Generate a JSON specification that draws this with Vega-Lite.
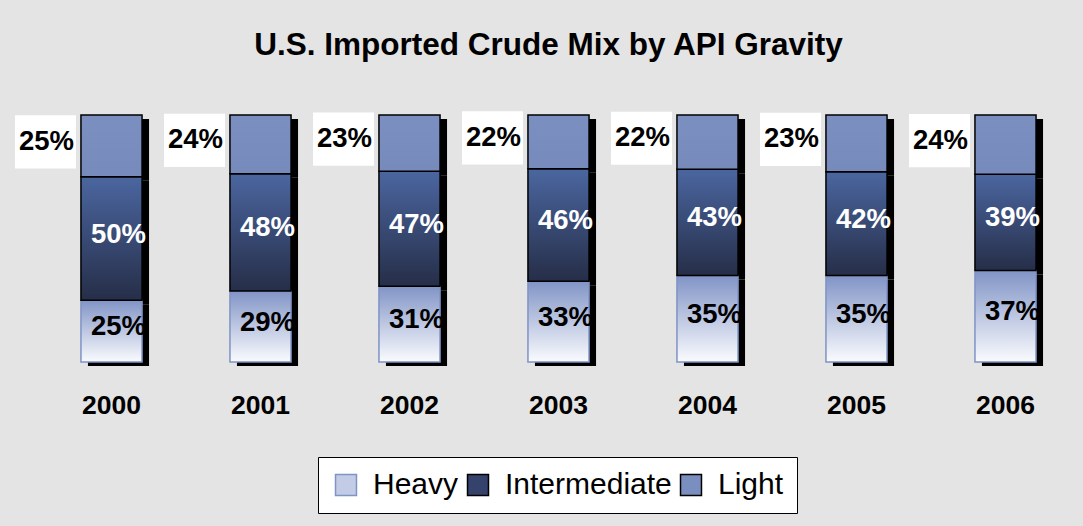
{
  "$schema": "https://vega.github.io/schema/vega-lite/v6.json",
  "width": 1043,
  "height": 247,
  "autosize": {"type": "none"},
  "padding": {"left": 37, "top": 115, "right": 3, "bottom": 164},
  "background": "#e4e4e4",
  "title": {
    "text": "U.S. Imported Crude Mix by API Gravity",
    "font": "Liberation Sans",
    "fontSize": 31.5,
    "fontWeight": "bold",
    "color": "#000000",
    "anchor": "middle",
    "frame": "group",
    "offset": 50,
    "dx": -10
  },
  "config": {"view": {"stroke": null}, "font": "Liberation Sans"},
  "data": {
    "values": [
      {"year": "2000", "type": "Heavy", "pct": 0.25},
      {"year": "2000", "type": "Intermediate", "pct": 0.50},
      {"year": "2000", "type": "Light", "pct": 0.25},
      {"year": "2001", "type": "Heavy", "pct": 0.29},
      {"year": "2001", "type": "Intermediate", "pct": 0.48},
      {"year": "2001", "type": "Light", "pct": 0.24},
      {"year": "2002", "type": "Heavy", "pct": 0.31},
      {"year": "2002", "type": "Intermediate", "pct": 0.47},
      {"year": "2002", "type": "Light", "pct": 0.23},
      {"year": "2003", "type": "Heavy", "pct": 0.33},
      {"year": "2003", "type": "Intermediate", "pct": 0.46},
      {"year": "2003", "type": "Light", "pct": 0.22},
      {"year": "2004", "type": "Heavy", "pct": 0.35},
      {"year": "2004", "type": "Intermediate", "pct": 0.43},
      {"year": "2004", "type": "Light", "pct": 0.22},
      {"year": "2005", "type": "Heavy", "pct": 0.35},
      {"year": "2005", "type": "Intermediate", "pct": 0.42},
      {"year": "2005", "type": "Light", "pct": 0.23},
      {"year": "2006", "type": "Heavy", "pct": 0.37},
      {"year": "2006", "type": "Intermediate", "pct": 0.39},
      {"year": "2006", "type": "Light", "pct": 0.24}
    ]
  },
  "transform": [
    {
      "stack": "pct",
      "groupby": ["year"],
      "sort": [{"field": "type", "order": "ascending"}],
      "offset": "normalize",
      "as": ["y0", "y1"]
    }
  ],
  "encoding": {
    "x": {
      "field": "year",
      "type": "ordinal",
      "scale": {"paddingInner": 0.59, "paddingOuter": 0.295},
      "axis": {
        "title": null,
        "domain": false,
        "ticks": false,
        "labelAngle": 0,
        "labelFont": "Liberation Sans",
        "labelFontSize": 26.5,
        "labelFontWeight": "bold",
        "labelColor": "#000000",
        "labelPadding": 30
      }
    }
  },
  "layer": [
    {
      "mark": {"type": "bar", "opacity": 0},
      "encoding": {
        "y": {"field": "y0", "type": "quantitative", "scale": {"domain": [0, 1], "nice": false}, "axis": null},
        "y2": {"field": "y1"},
        "color": {
          "field": "type",
          "type": "nominal",
          "scale": {"domain": ["Heavy", "Intermediate", "Light"], "range": ["#c3cce6", "#34426c", "#7a8fbf"]},
          "legend": {
            "title": null,
            "orient": "none",
            "legendX": 281,
            "legendY": 342,
            "direction": "horizontal",
            "fillColor": "#ffffff",
            "strokeColor": "#000000",
            "padding": 13,
            "labelFont": "Liberation Sans",
            "labelFontSize": 30,
            "labelColor": "#000000",
            "labelOffset": 12,
            "columnPadding": 4,
            "symbolType": "square",
            "symbolSize": 440,
            "symbolOpacity": 1,
            "symbolStrokeWidth": 1.5,
            "symbolStrokeColor": "#000000",
            "labelLimit": 400,
            "encode": {
              "symbols": {
                "update": {
                  "opacity": {"value": 1},
                  "stroke": [
                    {"test": "datum.value === 'Heavy'", "value": "#7f93c5"},
                    {"value": "#000000"}
                  ]
                }
              }
            }
          }
        }
      }
    },
    {
      "mark": {"type": "bar", "color": "#000000", "xOffset": 7, "yOffset": 4, "y2Offset": 4},
      "encoding": {
        "y": {"field": "y0", "type": "quantitative"},
        "y2": {"field": "y1"}
      }
    },
    {
      "transform": [{"filter": "datum.type === 'Heavy'"}],
      "mark": {
        "type": "bar",
        "stroke": "#7f93c5",
        "strokeWidth": 1.5,
        "fill": {"gradient": "linear", "x1": 0, "y1": 0, "x2": 0, "y2": 1, "stops": [{"offset": 0, "color": "#8194c6"}, {"offset": 1, "color": "#fafbfe"}]}
      },
      "encoding": {
        "y": {"field": "y0", "type": "quantitative"},
        "y2": {"field": "y1"}
      }
    },
    {
      "transform": [{"filter": "datum.type === 'Intermediate'"}],
      "mark": {
        "type": "bar",
        "stroke": "#000000",
        "strokeWidth": 1.5,
        "fill": {"gradient": "linear", "x1": 0, "y1": 0, "x2": 0, "y2": 1, "stops": [{"offset": 0, "color": "#4b66a0"}, {"offset": 1, "color": "#262e48"}]}
      },
      "encoding": {
        "y": {"field": "y0", "type": "quantitative"},
        "y2": {"field": "y1"}
      }
    },
    {
      "transform": [{"filter": "datum.type === 'Light'"}],
      "mark": {
        "type": "bar",
        "stroke": "#000000",
        "strokeWidth": 1.5,
        "fill": {"gradient": "linear", "x1": 0, "y1": 0, "x2": 0, "y2": 1, "stops": [{"offset": 0, "color": "#7b90c0"}, {"offset": 1, "color": "#768bbb"}]}
      },
      "encoding": {
        "y": {"field": "y0", "type": "quantitative"},
        "y2": {"field": "y1"}
      }
    },
    {
      "transform": [
        {"fold": ["y0", "y1"], "as": ["k", "v"]},
        {"aggregate": [{"op": "mean", "field": "v", "as": "mid"}], "groupby": ["year", "type", "pct"]}
      ],
      "layer": [
        {
          "transform": [{"filter": "datum.type === 'Light'"}],
          "mark": {
            "type": "point",
            "shape": "M-1,-0.87L1,-0.87L1,0.87L-1,0.87Z",
            "size": 3721,
            "filled": true,
            "fill": "#ffffff",
            "opacity": 1,
            "strokeWidth": 0,
            "xOffset": -66,
            "yOffset": -4
          },
          "encoding": {"y": {"field": "mid", "type": "quantitative"}}
        },
        {
          "transform": [{"filter": "datum.type === 'Light'"}],
          "mark": {"type": "text", "font": "Liberation Sans", "fontSize": 27.5, "fontWeight": "bold", "color": "#000000", "align": "center", "baseline": "middle", "dx": -65, "dy": -4},
          "encoding": {
            "y": {"field": "mid", "type": "quantitative"},
            "text": {"field": "pct", "type": "quantitative", "format": ".0%"}
          }
        },
        {
          "transform": [{"filter": "datum.type === 'Intermediate'"}],
          "mark": {"type": "text", "font": "Liberation Sans", "fontSize": 27.5, "fontWeight": "bold", "color": "#ffffff", "align": "center", "baseline": "middle", "dx": 7, "dy": -4},
          "encoding": {
            "y": {"field": "mid", "type": "quantitative"},
            "text": {"field": "pct", "type": "quantitative", "format": ".0%"}
          }
        },
        {
          "transform": [{"filter": "datum.type === 'Heavy'"}],
          "mark": {"type": "text", "font": "Liberation Sans", "fontSize": 27.5, "fontWeight": "bold", "color": "#000000", "align": "center", "baseline": "middle", "dx": 7, "dy": -4},
          "encoding": {
            "y": {"field": "mid", "type": "quantitative"},
            "text": {"field": "pct", "type": "quantitative", "format": ".0%"}
          }
        }
      ]
    }
  ]
}
